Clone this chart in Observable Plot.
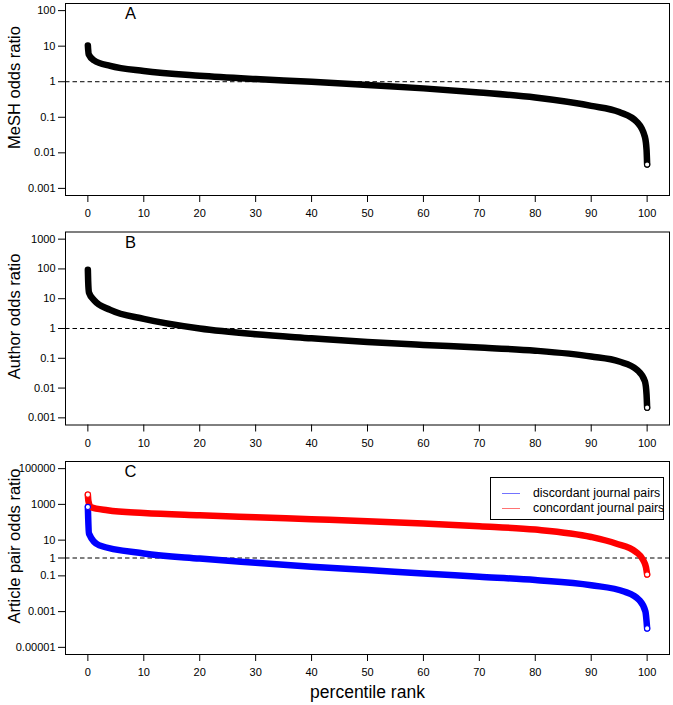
<!DOCTYPE html>
<html>
<head>
<meta charset="utf-8">
<script src="https://cdn.jsdelivr.net/npm/d3@7"></script>
<script src="https://cdn.jsdelivr.net/npm/@observablehq/plot@0.6"></script>
<style>
  body { margin: 0; background: #fff; font-family: Arial, "Liberation Sans", sans-serif; }
  #wrap { position: relative; width: 673px; height: 705px; background: #fff; }
  #wrap svg { display: block; }
  .legend { position: absolute; left: 490px; top: 477px; width: 172px; height: 41px; border: 1px solid #000; background: #fff; font-size: 12.3px; color: #000; }
  .legend .row { position: absolute; left: 0; height: 14px; line-height: 14px; white-space: nowrap; }
  .legend .sw { position: absolute; left: 11px; top: 7px; width: 18px; height: 0; border-top: 1px solid; }
  .legend .lb { position: absolute; left: 42px; top: 0; }
</style>
</head>
<body>
<div id="wrap"></div>
<script>
// ---- data ----
const xTicks = [0, 10, 20, 30, 40, 50, 60, 70, 80, 90, 100];

// Panel A: MeSH odds ratio
const pctA  = [0, 0.05, 0.15, 1.1, 4, 10, 20, 30, 40, 50, 60, 70, 80, 90, 95, 98.2, 99.6, 99.9, 100];
const meshOdds = [10.5, 8, 5.9, 4.0, 2.8, 2.0, 1.47, 1.19, 1.0, 0.81, 0.65, 0.50, 0.36, 0.21, 0.14, 0.073, 0.028, 0.012, 0.0047];
const yTicksA = [0.001, 0.01, 0.1, 1, 10, 100];
const yLabelsA = ["0.001", "0.01", "0.1", "1", "10", "100"];

// Panel B: Author odds ratio
const pctB  = [0, 0.05, 0.2, 1.1, 4, 10, 20, 30, 40, 50, 60, 70, 80, 90, 95, 98.2, 99.6, 99.9, 100];
const authorOdds = [93, 40, 16, 9, 4.2, 2.1, 1.0, 0.64, 0.47, 0.35, 0.28, 0.23, 0.18, 0.115, 0.078, 0.041, 0.017, 0.006, 0.0022];
const yTicksB = [0.001, 0.01, 0.1, 1, 10, 100, 1000];
const yLabelsB = ["0.001", "0.01", "0.1", "1", "10", "100", "1000"];

// Panel C: Article pair odds ratio
const pctConc = [0, 0.1, 0.5, 3.5, 10, 20, 30, 40, 50, 60, 70, 80, 90, 94.4, 98, 99.3, 99.8, 100];
const concordantOdds = [3500, 1500, 720, 470, 330, 245, 190, 148, 115, 85, 60, 39, 15, 6.5, 2.2, 0.76, 0.3, 0.12];
const pctDisc = [0, 0.05, 0.2, 2, 10, 20, 30, 40, 50, 60, 70, 80, 90, 96, 98.6, 99.7, 100];
const discordantOdds = [720, 200, 23, 5.2, 1.8, 0.93, 0.54, 0.32, 0.21, 0.135, 0.089, 0.058, 0.030, 0.013, 0.0044, 0.001, 0.000115];
const yTicksC = [0.00001, 0.001, 0.1, 1, 10, 1000, 100000];
const yLabelsC = ["0.00001", "0.001", "0.1", "1", "10", "1000", "100000"];

const seriesNames = ["discordant journal pairs", "concordant journal pairs"];
const seriesColors = ["#0000ff", "#ff0000"];

// ---- helpers ----
const toRows = (xs, ys) => xs.map((x, i) => ({x, y: ys[i]}));
function logDomain(ticks) {
  const lo = Math.log10(d3.min(ticks)), hi = Math.log10(d3.max(ticks));
  const pad = 0.04 * (hi - lo);
  return [10 ** (lo - pad), 10 ** (hi + pad)];
}

function panel({series, yTicks, yLabels, ylab, letter, height, marginTop, marginBottom, xlab, startDots}) {
  const marks = [
    Plot.ruleY([1], {stroke: "#000", strokeWidth: 1, strokeDasharray: "4.5,3"})
  ];
  for (const s of series) {
    const rows = toRows(s.x, s.y);
    marks.push(Plot.line(rows, {x: "x", y: "y", stroke: s.color, strokeWidth: 6.5, curve: "monotone-x", strokeLinecap: "round", strokeLinejoin: "round"}));
  }
  for (const s of series) {
    const rows = toRows(s.x, s.y);
    const ends = startDots ? [rows[0], rows[rows.length - 1]] : [rows[rows.length - 1]];
    marks.push(Plot.dot(ends, {x: "x", y: "y", r: 2.6, fill: "#fff", stroke: s.color, strokeWidth: 1.1}));
  }
  marks.push(Plot.frame({stroke: "#000", strokeWidth: 1}));
  marks.push(Plot.text([letter], {frameAnchor: "top-left", dx: 65, dy: 10.5, fontSize: 16.5, textAnchor: "middle", lineAnchor: "middle", fill: "#000"}));
  marks.push(Plot.text([ylab], {frameAnchor: "left", dx: -51, dy: -12, rotate: -90, fontSize: 16.5, textAnchor: "middle", lineAnchor: "middle", fill: "#000"}));
  if (xlab) marks.push(Plot.text([xlab], {frameAnchor: "bottom", dy: 38, fontSize: 17.5, textAnchor: "middle", lineAnchor: "middle", fill: "#000"}));
  return Plot.plot({
    width: 673,
    height,
    marginLeft: 65,
    marginRight: 4,
    marginTop,
    marginBottom,
    style: {fontFamily: "Arial, 'Liberation Sans', sans-serif", fontSize: "11px", color: "#000", background: "#fff", overflow: "visible"},
    x: {domain: [-4, 104], ticks: xTicks, tickSize: 7, tickPadding: 7, label: null},
    y: {type: "log", domain: logDomain(yTicks), ticks: yTicks, tickFormat: d => yLabels[yTicks.indexOf(d)], tickSize: 7, tickPadding: 3, label: null},
    marks
  });
}

const wrap = document.getElementById("wrap");
wrap.append(panel({
  series: [{x: pctA, y: meshOdds, color: "#000"}],
  yTicks: yTicksA, yLabels: yLabelsA, ylab: "MeSH odds ratio", letter: "A",
  height: 228, marginTop: 3, marginBottom: 33
}));
wrap.append(panel({
  series: [{x: pctB, y: authorOdds, color: "#000"}],
  yTicks: yTicksB, yLabels: yLabelsB, ylab: "Author odds ratio", letter: "B",
  height: 229, marginTop: 3.5, marginBottom: 32.5
}));
wrap.append(panel({
  series: [{x: pctDisc, y: discordantOdds, color: seriesColors[0]}, {x: pctConc, y: concordantOdds, color: seriesColors[1]}],
  yTicks: yTicksC, yLabels: yLabelsC, ylab: "Article pair odds ratio", letter: "C",
  height: 248, marginTop: 4, marginBottom: 51, xlab: "percentile rank", startDots: true
}));

// legend
const lg = document.createElement("div");
lg.className = "legend";
seriesNames.forEach((name, i) => {
  const row = document.createElement("div");
  row.className = "row";
  row.style.top = (8 + i * 14.5) + "px";
  row.style.width = "100%";
  const sw = document.createElement("div");
  sw.className = "sw";
  sw.style.borderTopColor = seriesColors[i];
  sw.style.opacity = "0.55";
  const lb = document.createElement("div");
  lb.className = "lb";
  lb.textContent = name;
  row.append(sw, lb);
  lg.append(row);
});
wrap.append(lg);
</script>
</body>
</html>
